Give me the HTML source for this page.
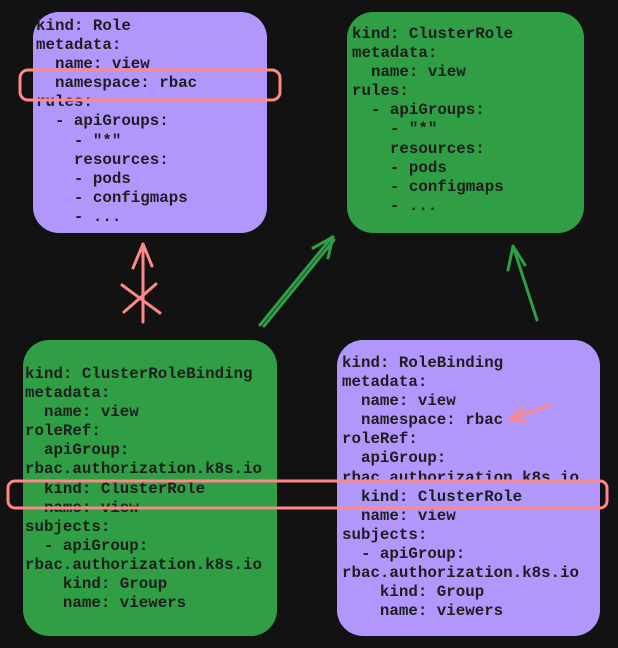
<!DOCTYPE html>
<html><head><style>
html,body{margin:0;padding:0;background:#121212;width:618px;height:648px;overflow:hidden}
.b{position:absolute;border-radius:26px}
.t{position:absolute;font-family:"Liberation Mono",monospace;font-size:15.8px;line-height:19.1px;color:#1e1e1e;white-space:pre;font-weight:bold}
svg{position:absolute;left:0;top:0}
</style></head><body>
<div class="b" style="left:33px;top:12px;width:234px;height:221px;background:#b197fc"></div>
<div class="b" style="left:347px;top:12px;width:237px;height:221px;background:#2f9e44"></div>
<div class="b" style="left:23px;top:340px;width:254px;height:296px;background:#2f9e44"></div>
<div class="b" style="left:337px;top:340px;width:263px;height:296px;background:#b197fc"></div>
<div class="t" style="left:36px;top:17px">kind: Role
metadata:
  name: view
  namespace: rbac
rules:
  - apiGroups:
    - "*"
    resources:
    - pods
    - configmaps
    - ...</div>
<div class="t" style="left:352px;top:25px">kind: ClusterRole
metadata:
  name: view
rules:
  - apiGroups:
    - "*"
    resources:
    - pods
    - configmaps
    - ...</div>
<div class="t" style="left:25px;top:365px">kind: ClusterRoleBinding
metadata:
  name: view
roleRef:
  apiGroup:
rbac.authorization.k8s.io
  kind: ClusterRole
  name: view
subjects:
  - apiGroup:
rbac.authorization.k8s.io
    kind: Group
    name: viewers</div>
<div class="t" style="left:342px;top:354px">kind: RoleBinding
metadata:
  name: view
  namespace: rbac
roleRef:
  apiGroup:
rbac.authorization.k8s.io
  kind: ClusterRole
  name: view
subjects:
  - apiGroup:
rbac.authorization.k8s.io
    kind: Group
    name: viewers</div>
<svg width="618" height="648" fill="none" stroke-linecap="round" stroke-linejoin="round">
<rect x="20" y="70" width="260" height="30" rx="8" stroke="#ff8787" stroke-width="3"/>
<rect x="8" y="481" width="599" height="27" rx="7" stroke="#ff8787" stroke-width="3"/>
<path d="M143 322 L143 244 M133 268 L143 244 L152 266" stroke="#ff8787" stroke-width="3"/>
<path d="M122 285 L160 313 M124 312 L156 284" stroke="#ff8787" stroke-width="3"/>
<path d="M260 325 L332 237 M264 326 L334 240 M313 248 L333 237 L328 258" stroke="#2f9e44" stroke-width="3"/>
<path d="M537 320 L513 246 M508 270 L513 246 L525 265" stroke="#2f9e44" stroke-width="3"/>
<path d="M550 405 L510 420 M523 408 L510 420 L527 421" stroke="#ff8787" stroke-width="3"/>
</svg>
</body></html>
